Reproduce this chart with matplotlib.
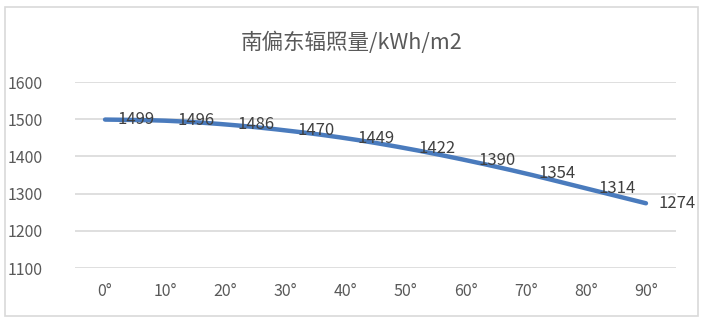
import numpy as np
import matplotlib
matplotlib.use("Agg")
import matplotlib.pyplot as plt
from matplotlib.patches import Rectangle

plt.rcParams['font.family'] = ['Noto Sans CJK SC', 'DejaVu Sans']

title = "南偏东辐照量/kWh/m2"
angles = ["0°", "10°", "20°", "30°", "40°", "50°", "60°", "70°", "80°", "90°"]
irradiance = [1499, 1496, 1486, 1470, 1449, 1422, 1390, 1354, 1314, 1274]
y_ticks = [1100, 1200, 1300, 1400, 1500, 1600]

line_color = "#4a7bbd"
grid_color = "#d9d9d9"
text_color = "#595959"
label_color = "#404040"


def smooth(xs, ys, n=20):
    """Catmull-Rom spline through the points, for a smoothed line."""
    xs = np.asarray(xs, float)
    ys = np.asarray(ys, float)
    px = np.concatenate([[2 * xs[0] - xs[1]], xs, [2 * xs[-1] - xs[-2]]])
    py = np.concatenate([[2 * ys[0] - ys[1]], ys, [2 * ys[-1] - ys[-2]]])
    ox, oy = [], []
    t = np.linspace(0, 1, n, endpoint=False)
    for i in range(1, len(px) - 2):
        for arr, out in ((px, ox), (py, oy)):
            p0, p1, p2, p3 = arr[i - 1], arr[i], arr[i + 1], arr[i + 2]
            out.extend(0.5 * ((2 * p1) + (-p0 + p2) * t
                              + (2 * p0 - 5 * p1 + 4 * p2 - p3) * t ** 2
                              + (-p0 + 3 * p1 - 3 * p2 + p3) * t ** 3))
    ox.append(xs[-1])
    oy.append(ys[-1])
    return np.array(ox), np.array(oy)


fig = plt.figure(figsize=(7.06, 3.23), dpi=100)
fig.patch.set_facecolor("white")
fig.add_artist(Rectangle((5 / 706, 1 - 316 / 323), 693 / 706, 309 / 323,
                         transform=fig.transFigure, fill=False,
                         edgecolor=grid_color, linewidth=1.2))

ax = fig.add_axes([75 / 706, 1 - 268 / 323, 601 / 706, 186 / 323])
x = np.arange(len(angles))
sx, sy = smooth(x, irradiance)
ax.plot(sx, sy, color=line_color, linewidth=3.2, solid_capstyle="round", zorder=3)

for xi, yi in zip(x, irradiance):
    ax.annotate(str(yi), (xi, yi), xytext=(9, 0), textcoords="offset points",
                ha="left", va="center", fontsize=12, color=label_color, zorder=4)

ax.set_xlim(-0.5, len(angles) - 0.5)
ax.set_ylim(y_ticks[0], y_ticks[-1])
ax.set_yticks(y_ticks)
ax.set_xticks(x)
ax.set_xticklabels(angles)
ax.grid(axis="y", color=grid_color, linewidth=1.2)
ax.set_axisbelow(True)
for s in ax.spines.values():
    s.set_visible(False)
ax.tick_params(length=0, labelsize=11.5, colors=text_color)
ax.tick_params(axis="y", pad=23)
ax.tick_params(axis="x", pad=11)

fig.text(352 / 706, 1 - 43 / 323, title, ha="center", va="center",
         fontsize=15.5, color=text_color)

fig.savefig("out.png", dpi=100, facecolor="white")
